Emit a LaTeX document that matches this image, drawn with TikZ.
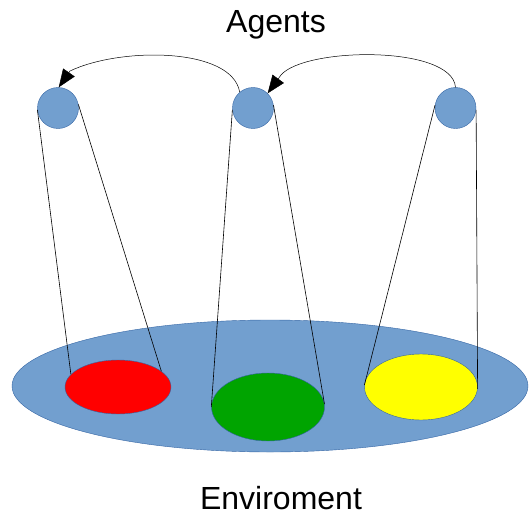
\documentclass[tikz,border=0pt]{standalone}
\usepackage{fontspec}
\setmainfont{Liberation Sans}
\usetikzlibrary{shapes.geometric,arrows.meta}
\definecolor{agentblue}{HTML}{729FCF}
\definecolor{edgeblue}{HTML}{3465A4}
\definecolor{envred}{HTML}{FF0000}
\definecolor{envgreen}{HTML}{00A400}
\definecolor{envyellow}{HTML}{FFFF00}
\tikzset{
  agent/.style={circle, fill=agentblue, draw=edgeblue, line width=0.4pt, inner sep=0pt, minimum size=41pt},
  region/.style={ellipse, draw=edgeblue, line width=0.4pt, inner sep=0pt},
  link/.style={draw=black, line width=0.6pt},
  pass/.style={draw=black, line width=0.5pt, -{Triangle[length=18pt,width=14pt]}},
  label/.style={font=\fontsize{32}{38}\selectfont, anchor=base, text=black}
}
\begin{document}
\begin{tikzpicture}[x=1pt,y=-1pt]
\useasboundingbox (0,0) rectangle (529,516);
\node[ellipse, fill=agentblue, draw=edgeblue, line width=0.4pt, inner sep=0pt, minimum width=516pt, minimum height=132pt] (env) at (270,386) {};
\node[region, fill=envred, minimum width=106pt, minimum height=54pt] (red) at (118,387) {};
\node[region, fill=envgreen, minimum width=113pt, minimum height=68pt] (green) at (268,407) {};
\node[region, fill=envyellow, minimum width=113pt, minimum height=66pt] (yellow) at (421,387) {};
\node[agent] (a1) at (58,108) {};
\node[agent] (a2) at (253,108) {};
\node[agent] (a3) at (455.5,108) {};
\coordinate (b1) at (70,71);
\coordinate (b2) at (281,75);
\draw[link] (a1.185) -- (red.165);
\draw[link] (a1.10) -- (red.20);
\draw[link] (a2.185) -- (green.180);
\draw[link] (a2.8) -- (green.3);
\draw[link] (a3.172) -- (yellow.178);
\draw[link] (a3.355) -- (yellow.358);
\draw[pass] (a2.130) .. controls (232,47) and (120,47) .. (b1) -- (a1.88);
\draw[pass] (a3.90) .. controls (452,45) and (305,47) .. (b2) -- (a2.45);
\node[label] (agents) at (276,33) {Agents};
\node[label] (envtext) at (281,509) {Enviroment};
\end{tikzpicture}
\end{document}
